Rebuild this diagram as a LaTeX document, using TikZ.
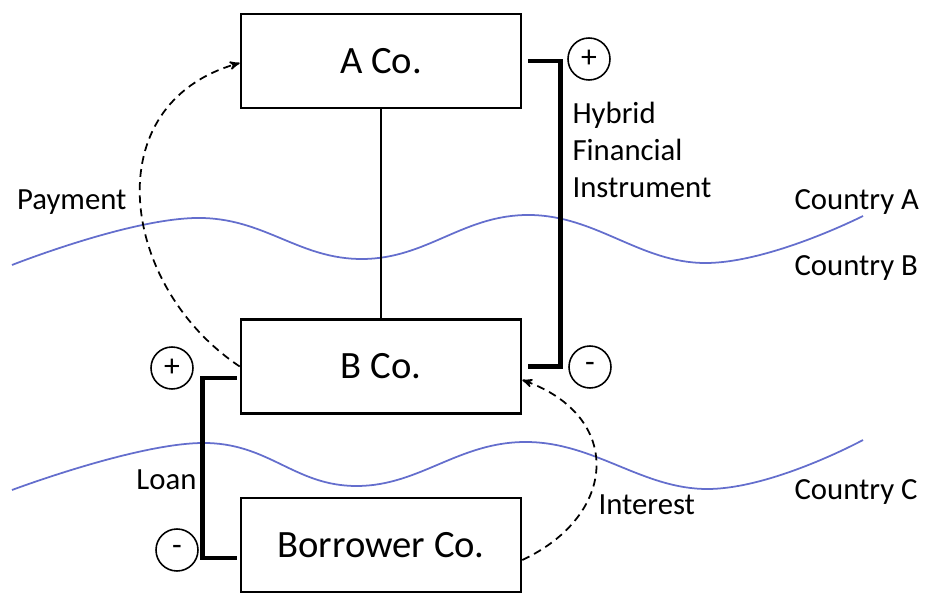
\documentclass[tikz,border=0pt]{standalone}
\usepackage{fontspec}
\setmainfont{Carlito}
\usepackage{tikz}
\usetikzlibrary{arrows}

\definecolor{border}{RGB}{100,110,205}

\begin{document}
\begin{tikzpicture}[x=0.02cm,y=-0.02cm,>=stealth',semithick,
	company/.style={draw,line width=1.5pt,minimum width=5.6cm,minimum height=1.88cm,font=\fontsize{22}{26}\selectfont},
	sign/.style={draw,circle,line width=0.9pt,minimum size=0.84cm,inner sep=0pt,font=\fontsize{18}{20}\selectfont},
	label/.style={font=\fontsize{17.5}{21}\selectfont,inner sep=0pt},
	bond/.style={line width=2.6pt},
	flow/.style={->,line width=1pt,dash pattern=on 4.5pt off 3pt},
	frontier/.style={border,line width=1pt}]
	\useasboundingbox (0,0) rectangle (933,597);

	\node [company]	(a)	at (381,61)		{A Co.};
	\node [company]	(b)	at (381,366.5)	{B Co.};
	\node [company]	(c)	at (381,545)	{Borrower Co.};

	\node [sign]	(ap)	at (589,59)		{+};
	\node [sign]	(bm)	at (590,367)	{-};
	\node [sign]	(bp)	at (172,368)	{+};
	\node [sign]	(cm)	at (177,550)	{-};

	\node [label,anchor=east]					(pay)	at (127,202)	{Payment};
	\node [label,anchor=west,align=left]		(hfi)	at (572,150)	{Hybrid\\Financial\\Instrument};
	\node [label,anchor=west]					(ctya)	at (794,202)	{Country A};
	\node [label,anchor=west]					(ctyb)	at (794,268)	{Country B};
	\node [label,anchor=west]					(ctyc)	at (794,492)	{Country C};
	\node [label,anchor=east]					(loan)	at (197,480)	{Loan};
	\node [label,anchor=west]					(int)	at (598,505)	{Interest};

	\draw [frontier] plot [smooth,tension=0.7] coordinates {(12,265) (196,218) (363,259) (530,215) (705,263) (863,216)};
	\draw [frontier] plot [smooth,tension=0.7] coordinates {(12,490) (202,443) (357,486) (527,442) (708,489) (863,440)};

	\draw [line width=1.7pt]	(a) -- (b);
	\draw [bond]	([xshift=0.12cm]a.east) -- ++(32,0) |- ([xshift=0.12cm]b.east);
	\draw [bond]	([xshift=-0.06cm,yshift=-0.23cm]b.west) -- ++(-34,0) |- ([xshift=-0.06cm,yshift=-0.26cm]c.west);

	\draw [flow]	(b.west) .. controls +(-120,-80) and +(-145,41) .. ([yshift=-0.04cm]a.west);
	\draw [flow]	([yshift=-0.3cm]c.east) .. controls +(96,-45) and +(101,36) .. ([yshift=-0.27cm]b.east);
\end{tikzpicture}
\end{document}
